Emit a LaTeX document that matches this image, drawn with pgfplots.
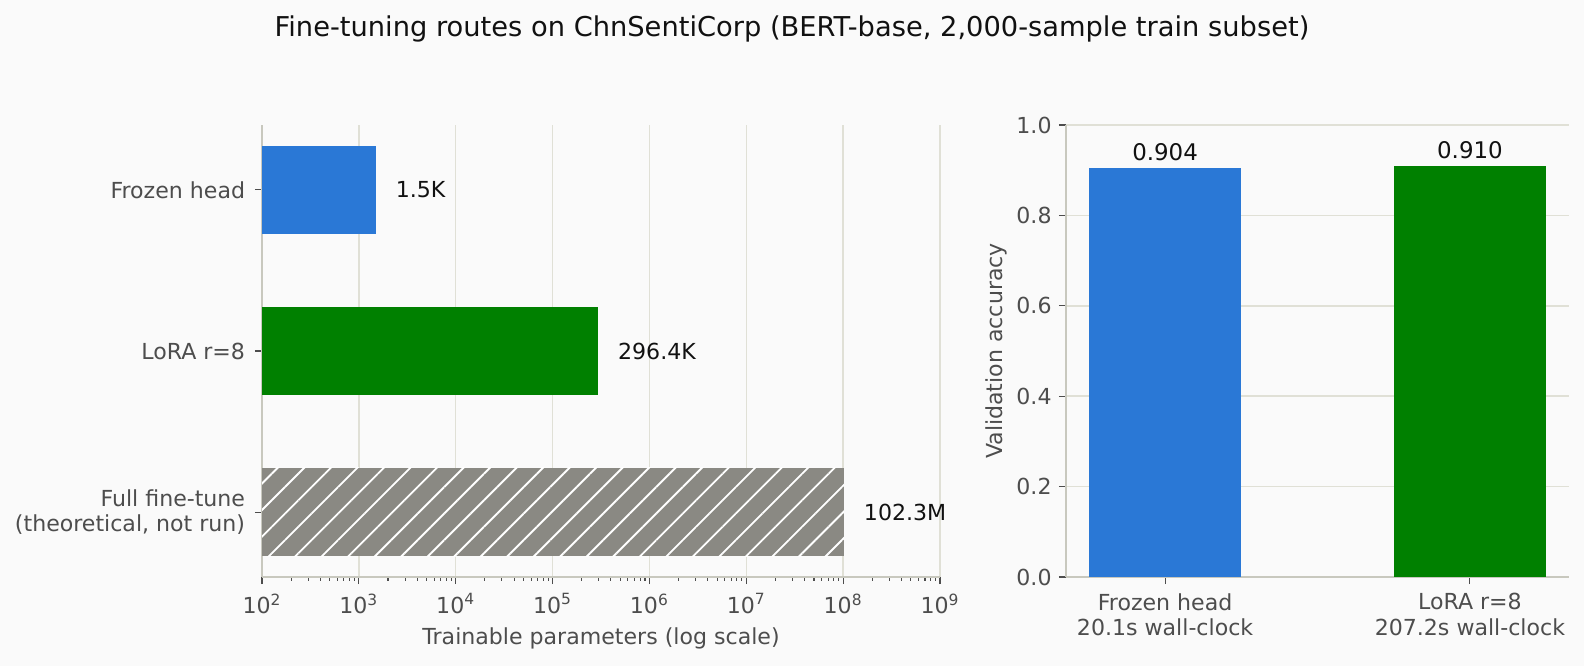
\documentclass[border=0pt]{standalone}
\usepackage{fontspec}
\setmainfont{DejaVu Sans}
\usepackage{pgfplots}
\pgfplotsset{compat=1.18}
\usetikzlibrary{patterns.meta}

\definecolor{bg}{HTML}{FAFAFA}
\definecolor{frozenblue}{HTML}{2A78D6}
\definecolor{loragreen}{HTML}{008000}
\definecolor{fullgray}{HTML}{8A8983}
\definecolor{spine}{HTML}{C8C8BE}
\definecolor{gridc}{HTML}{E0E0D6}
\definecolor{ticktext}{HTML}{4D4D4D}
\definecolor{valtext}{HTML}{111111}

\pgfplotsset{
  routestyle/.style={
    scale only axis,
    anchor=south west,
    axis line style={spine, line width=0.7pt},
    tick style={color=ticktext, line width=0.5pt},
    tick align=outside,
    major tick length=3.4pt,
    minor tick length=1.9pt,
    tick label style={font=\fontsize{10.6}{12.2}\selectfont, text=ticktext},
    label style={font=\fontsize{10.6}{12.6}\selectfont, text=ticktext},
    xticklabel shift=1pt,
    grid style={gridc, line width=0.7pt},
    /pgf/number format/assume math mode=true,
  },
}

\begin{document}
\begin{tikzpicture}
\fill[bg] (0,0) rectangle (760.32pt,319.68pt);
\useasboundingbox (0,0) rectangle (760.32pt,319.68pt);

\node[font=\fontsize{13.1}{15.5}\selectfont, text=valtext] at (380.16pt,305.6pt)
  {Fine-tuning routes on ChnSentiCorp (BERT-base, 2,000-sample train subset)};

% Trainable parameters per route (log scale)
\begin{axis}[routestyle,
  at={(125.76pt,42.72pt)}, width=325.44pt, height=216.96pt,
  xbar, bar width=0.55,
  xmode=log, xmin=1e2, xmax=1e9,
  ymin=-0.4025, ymax=2.4025,
  axis x line*=bottom, axis y line*=left,
  xtick={1e2,1e3,1e4,1e5,1e6,1e7,1e8,1e9},
  xticklabels={10\textsuperscript{2},10\textsuperscript{3},10\textsuperscript{4},10\textsuperscript{5},10\textsuperscript{6},10\textsuperscript{7},10\textsuperscript{8},10\textsuperscript{9}},
  minor xtick={2e2,3e2,4e2,5e2,6e2,7e2,8e2,9e2,
               2e3,3e3,4e3,5e3,6e3,7e3,8e3,9e3,
               2e4,3e4,4e4,5e4,6e4,7e4,8e4,9e4,
               2e5,3e5,4e5,5e5,6e5,7e5,8e5,9e5,
               2e6,3e6,4e6,5e6,6e6,7e6,8e6,9e6,
               2e7,3e7,4e7,5e7,6e7,7e7,8e7,9e7,
               2e8,3e8,4e8,5e8,6e8,7e8,8e8,9e8},
  xmajorgrids,
  ytick={0,1,2},
  yticklabels={{Full fine-tune\\(theoretical, not run)},{LoRA r=8},{Frozen head}},
  yticklabel style={align=right, xshift=-1.2pt},
  xlabel={Trainable parameters (log scale)},
  point meta=explicit symbolic,
  nodes near coords,
  nodes near coords style={font=\fontsize{10.6}{12.6}\selectfont, text=valtext, anchor=west, xshift=6pt},
]
\addplot[fill=frozenblue, draw=none, bar shift=0pt] coordinates {(1500,2) [1.5K]};
\addplot[fill=loragreen, draw=none, bar shift=0pt] coordinates {(296400,1) [296.4K]};
\addplot[fill=fullgray, draw=none, bar shift=0pt,
  postaction={pattern={Lines[angle=45,distance=9pt,line width=0.9pt]}, pattern color=white}]
  coordinates {(102300000,0) [102.3M]};
\end{axis}

% Validation accuracy per route
\begin{axis}[routestyle,
  at={(511.68pt,42.72pt)}, width=241.44pt, height=216.96pt,
  ybar, bar width=0.5,
  xmin=-0.325, xmax=1.325, ymin=0, ymax=1,
  axis x line*=bottom, axis y line*=left,
  xtick={0,1},
  xticklabels={{Frozen head\\20.1s wall-clock},{LoRA r=8\\207.2s wall-clock}},
  xticklabel style={align=center},
  ytick={0,0.2,0.4,0.6,0.8,1.0},
  yticklabel style={/pgf/number format/.cd, fixed, fixed zerofill, precision=1},
  ymajorgrids,
  ylabel={Validation accuracy},
  ylabel shift=-2.5pt,
  nodes near coords,
  nodes near coords style={font=\fontsize{11}{13}\selectfont, text=valtext,
    /pgf/number format/.cd, fixed, fixed zerofill, precision=3},
]
\addplot[fill=frozenblue, draw=none, bar shift=0pt] coordinates {(0,0.904)};
\addplot[fill=loragreen, draw=none, bar shift=0pt] coordinates {(1,0.910)};
\end{axis}
\end{tikzpicture}
\end{document}
